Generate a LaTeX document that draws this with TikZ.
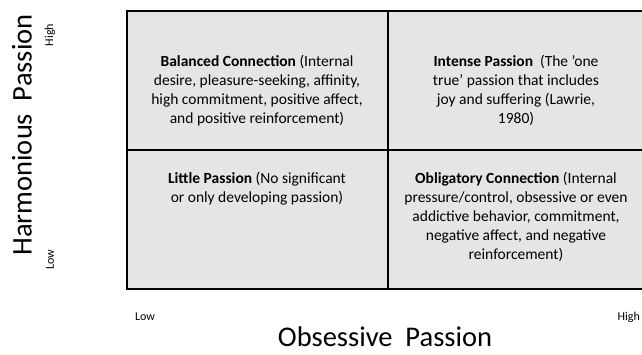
\documentclass[tikz,border=0pt]{standalone}
\usepackage{fontspec}
\setmainfont{Carlito}
\begin{document}
\begin{tikzpicture}[x=1pt,y=-1pt,
  quad/.style={anchor=north,align=center,inner sep=0pt,font=\fontsize{15.5}{19}\selectfont},
  tick/.style={inner sep=0pt,font=\fontsize{12}{14}\selectfont},
  axis/.style={inner sep=0pt,font=\fontsize{28.5}{33}\selectfont}]
\useasboundingbox (0,0) rectangle (642,355);
% quadrant grid
\fill[gray!20] (127,11) rectangle (642,289);
\draw[line width=2.5pt] (642,11) -- (127,11) -- (127,289) -- (642,289);
\draw[line width=2.5pt] (388,11) -- (388,289) (127,150) -- (642,150);
% quadrants
\node[quad] (balanced) at (257,55) {\textbf{Balanced Connection} (Internal\\
  desire, pleasure-seeking, affinity,\\
  high commitment, positive affect,\\
  and positive reinforcement)};
\node[quad] (intense) at (516,55) {\textbf{Intense Passion}\ \ (The ’one\\
  true’ passion that includes\\
  joy and suffering (Lawrie,\\
  1980)};
\node[quad] (little) at (257,172) {\textbf{Little Passion} (No significant\\
  or only developing passion)};
\node[quad] (obligatory) at (516,172) {\textbf{Obligatory Connection} (Internal\\
  pressure/control, obsessive or even\\
  addictive behavior, commitment,\\
  negative affect, and negative\\
  reinforcement)};
% axes
\node[axis] (obsessive) at (385,337) {Obsessive\ \ Passion};
\node[axis,rotate=90] (harmonious) at (22,135) {Harmonious\ \ Passion};
\node[tick] (xlow) at (145,317) {Low};
\node[tick,anchor=east] (xhigh) at (640,317) {High};
\node[tick,rotate=90] (ylow) at (50,260) {Low};
\node[tick,rotate=90] (yhigh) at (50,35) {High};
\end{tikzpicture}
\end{document}
